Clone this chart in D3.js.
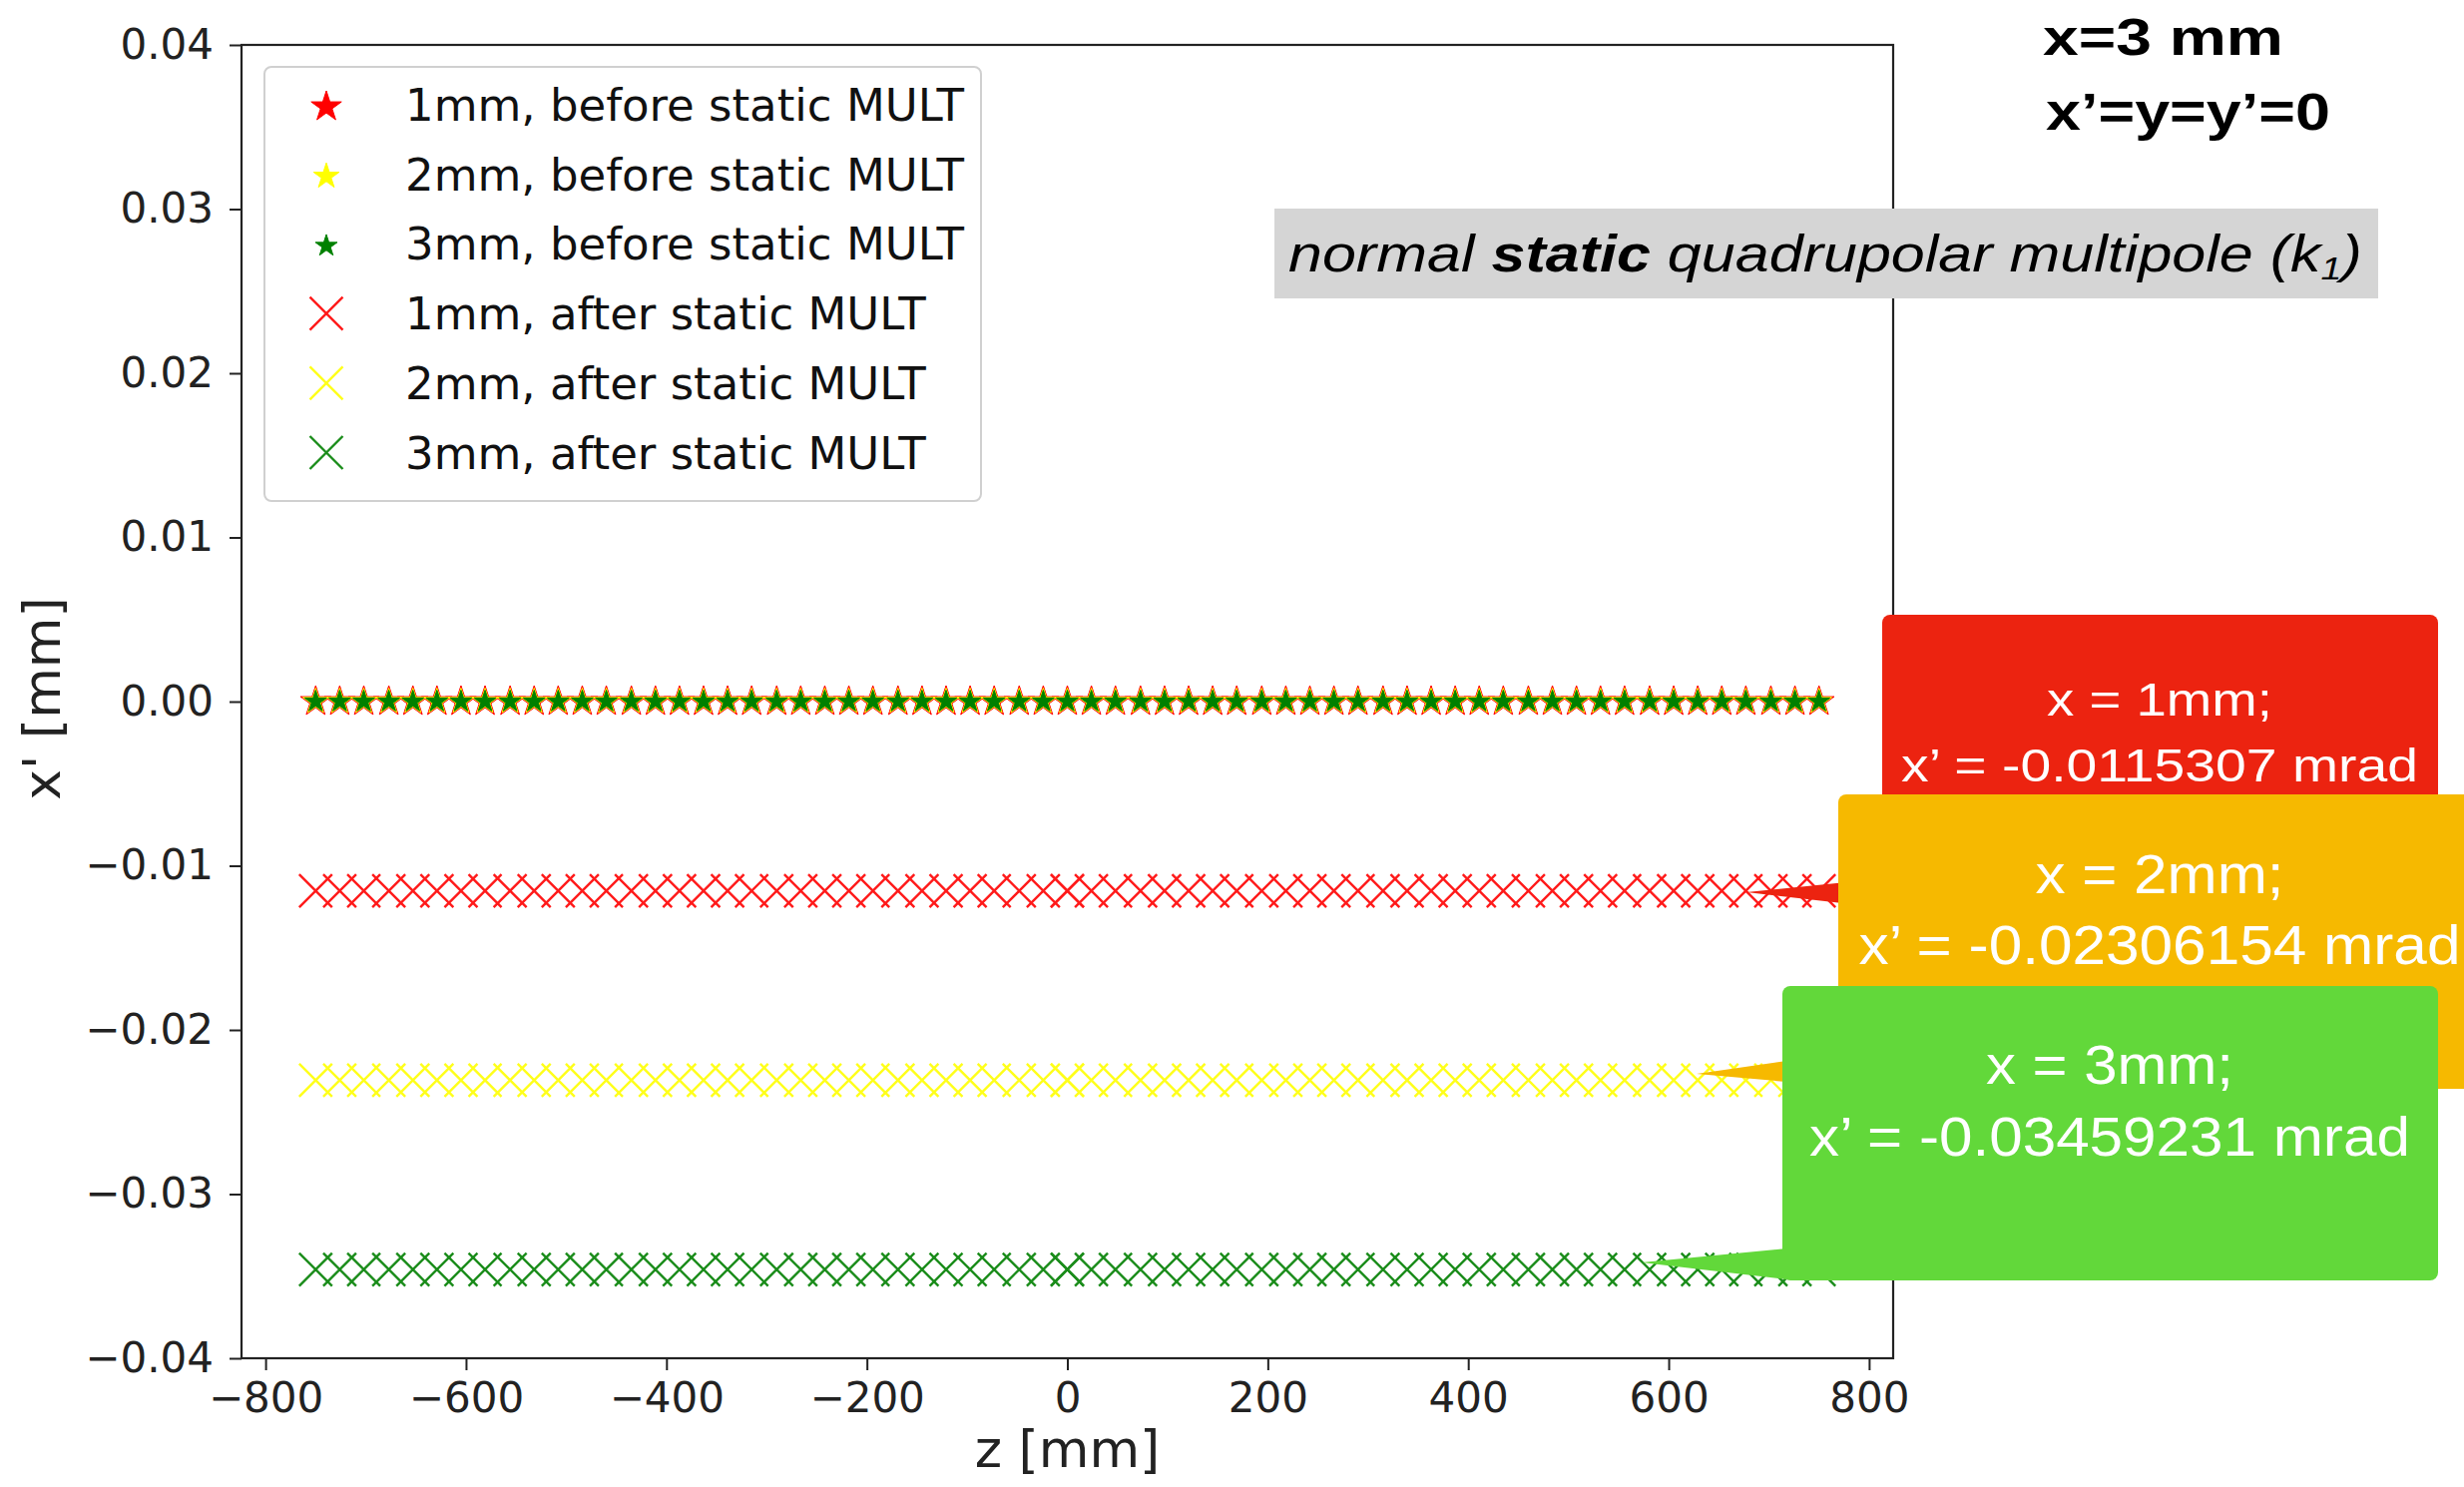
<!DOCTYPE html>
<html lang="en">
<head>
  <meta charset="utf-8">
  <title>static MULT kick</title>
  <script src="https://cdn.jsdelivr.net/npm/d3@7"></script>
  <style>
    body { margin: 0px; background: white; }
    svg { display: block; }
  </style>
</head>
<body>
  <script type="text/javascript">
    // Data
    var zBefore = [-750, -726, -702, -677, -653, -629, -605, -581, -556, -532, -508, -484, -460, -435, -411, -387,
                   -363, -339, -315, -290, -266, -242, -218, -194, -169, -145, -121, -97, -73, -48, -24, 0,
                   24, 48, 73, 97, 121, 145, 169, 194, 218, 242, 266, 290, 315, 339, 363, 387,
                   411, 435, 460, 484, 508, 532, 556, 581, 605, 629, 653, 677, 702, 726, 750];
    var zAfter = zBefore.concat([0]);   // the point at z = 0 shows up twice after the element
    var offsets = ["1mm", "2mm", "3mm"];
    var xpBefore = [0, 0, 0];
    var xpAfter = [-0.0115307, -0.02306154, -0.03459231];
    var xTicks = [-800, -600, -400, -200, 0, 200, 400, 600, 800];
    var yTicks = [-0.04, -0.03, -0.02, -0.01, 0.00, 0.01, 0.02, 0.03, 0.04];
    var calloutLines = [
      ["x = 1mm;", "x\u2019 = -0.0115307 mrad"],
      ["x = 2mm;", "x\u2019 = -0.02306154 mrad"],
      ["x = 3mm;", "x\u2019 = -0.03459231 mrad"]
    ];

    // Styles
    var colors = ["#ff0000", "#ffff00", "#008000"];
    var crossColors = ["#ff1a1a", "#ffff1a", "#1a8c1a"];
    var starRadius = [16, 13.5, 11.5];
    var crossHalf = 16.5;
    var width = 2469, height = 1490;
    var plotLeft = 242, plotRight = 1897, plotTop = 45, plotBottom = 1361;
    var font = "'DejaVu Sans', sans-serif";
    var slideFont = "'Liberation Sans', Arial, sans-serif";

    var svg = d3.select("body").append("svg")
      .attr("width", width)
      .attr("height", height);

    svg.append("rect")
      .attr("width", width)
      .attr("height", height)
      .attr("fill", "white");

    var x = d3.scaleLinear().domain([-824, 824]).range([plotLeft, plotRight]);
    var y = d3.scaleLinear().domain([-0.04, 0.04]).range([plotBottom, plotTop]);

    // Axes
    var xAxis = svg.append("g")
      .attr("transform", "translate(0," + plotBottom + ")")
      .call(d3.axisBottom(x).tickValues(xTicks).tickSize(12).tickPadding(12).tickFormat(d3.format("d")));
    var yAxis = svg.append("g")
      .attr("transform", "translate(" + plotLeft + ",0)")
      .call(d3.axisLeft(y).tickValues(yTicks).tickSize(12).tickPadding(16).tickFormat(d3.format(".2f")));
    [xAxis, yAxis].forEach(function(g) {
      g.select(".domain").remove();
      g.selectAll(".tick line").attr("stroke", "#222").attr("stroke-width", 2);
      g.selectAll(".tick text").attr("fill", "#222").style("font-family", font).style("font-size", "42px");
    });

    // Spines
    svg.append("rect")
      .attr("x", plotLeft).attr("y", plotTop)
      .attr("width", plotRight - plotLeft).attr("height", plotBottom - plotTop)
      .attr("fill", "none").attr("stroke", "#222").attr("stroke-width", 2.2);

    svg.append("text")
      .attr("x", (plotLeft + plotRight) / 2).attr("y", 1470)
      .attr("text-anchor", "middle")
      .style("font-family", font).style("font-size", "52px").attr("fill", "#222")
      .text("z [mm]");
    svg.append("text")
      .attr("transform", "translate(60,700) rotate(-90)")
      .attr("text-anchor", "middle")
      .style("font-family", font).style("font-size", "52px").attr("fill", "#222")
      .text("x' [mm]");

    function starPath(R) {
      var pts = [];
      for (var i = 0; i < 10; i++) {
        var r = i % 2 ? R * 0.382 : R;
        var a = -Math.PI / 2 + i * Math.PI / 5;
        pts.push([r * Math.cos(a), r * Math.sin(a)]);
      }
      return "M" + pts.join("L") + "Z";
    }
    function crossPath(s) {
      return "M" + (-s) + "," + (-s) + "L" + s + "," + s + "M" + (-s) + "," + s + "L" + s + "," + (-s);
    }

    // Markers before the element (stars)
    offsets.forEach(function(o, k) {
      svg.append("g").selectAll("path")
        .data(zBefore.map(function(z) { return {z: z, v: xpBefore[k]}; }))
        .enter().append("path")
        .attr("d", starPath(starRadius[k]))
        .attr("transform", function(d) { return "translate(" + x(d.z) + "," + y(d.v) + ")"; })
        .attr("fill", colors[k])
        .attr("stroke", colors[k]).attr("stroke-width", 1);
    });

    // Markers after the element (crosses)
    offsets.forEach(function(o, k) {
      svg.append("g").selectAll("path")
        .data(zAfter.map(function(z) { return {z: z, v: xpAfter[k]}; }))
        .enter().append("path")
        .attr("d", crossPath(crossHalf))
        .attr("transform", function(d) { return "translate(" + x(d.z) + "," + y(d.v) + ")"; })
        .attr("fill", "none")
        .attr("stroke", crossColors[k]).attr("stroke-width", 2.4);
    });

    // Legend
    var legend = svg.append("g");
    legend.append("rect")
      .attr("x", 265).attr("y", 67).attr("width", 718).attr("height", 435)
      .attr("rx", 7)
      .attr("fill", "white").attr("fill-opacity", 0.8)
      .attr("stroke", "#d0d0d0").attr("stroke-width", 2);
    var legendRows = [];
    offsets.forEach(function(o, k) { legendRows.push({label: o + ", before static MULT", type: "star", k: k}); });
    offsets.forEach(function(o, k) { legendRows.push({label: o + ", after static MULT", type: "cross", k: k}); });
    legendRows.forEach(function(row, i) {
      var cy = 105 + i * 69.7;
      if (row.type === "star") {
        legend.append("path")
          .attr("d", starPath(starRadius[row.k]))
          .attr("transform", "translate(327," + (cy + 2) + ")")
          .attr("fill", colors[row.k]).attr("stroke", colors[row.k]).attr("stroke-width", 1);
      } else {
        legend.append("path")
          .attr("d", crossPath(crossHalf))
          .attr("transform", "translate(327," + cy + ")")
          .attr("fill", "none").attr("stroke", crossColors[row.k]).attr("stroke-width", 2.4);
      }
      legend.append("text")
        .attr("x", 406).attr("y", cy + 16)
        .style("font-family", font).style("font-size", "45px").attr("fill", "#111")
        .text(row.label);
    });

    // Slide overlays
    function fitText(sel, anchorX, targetWidth) {
      var w = sel.node().getComputedTextLength();
      var s = targetWidth / w;
      sel.attr("transform", "translate(" + anchorX + ",0) scale(" + s + ",1) translate(" + (-anchorX) + ",0)");
    }

    var t1 = svg.append("text").attr("x", 2047).attr("y", 55)
      .style("font-family", slideFont).style("font-size", "52px").style("font-weight", "bold")
      .text("x=3 mm");
    fitText(t1, 2047, 241);
    var t2 = svg.append("text").attr("x", 2050).attr("y", 130)
      .style("font-family", slideFont).style("font-size", "52px").style("font-weight", "bold")
      .text("x\u2019=y=y\u2019=0");
    fitText(t2, 2050, 285);

    svg.append("rect")
      .attr("x", 1277).attr("y", 209).attr("width", 1106).attr("height", 90)
      .attr("fill", "#d5d5d5");
    var gt = svg.append("text").attr("x", 1291).attr("y", 272)
      .style("font-family", slideFont).style("font-size", "52px").style("font-style", "italic");
    gt.append("tspan").text("normal ");
    gt.append("tspan").style("font-weight", "bold").text("static");
    gt.append("tspan").text(" quadrupolar multipole (k");
    gt.append("tspan").style("font-size", "32px").attr("dy", 8).text("1");
    gt.append("tspan").attr("dy", -8).text(")");
    fitText(gt, 1291, 1076);

    var boxes = [
      {x: 1886, y: 616, w: 557, h: 300, fill: "#ec2310",
       tail: [[1750, 894], [1890, 880], [1890, 910]],
       cx: 2164, base: [717, 783], size: 47, widths: [226, 518]},
      {x: 1842, y: 796, w: 650, h: 295, fill: "#f6b900",
       tail: [[1700, 1076], [1846, 1055], [1846, 1089]],
       cx: 2164, base: [895, 966], size: 56, widths: [249, 603]},
      {x: 1786, y: 988, w: 657, h: 295, fill: "#62d83a",
       tail: [[1645, 1265], [1790, 1251], [1790, 1282]],
       cx: 2114, base: [1086, 1158], size: 56, widths: [248, 602]}
    ];
    boxes.forEach(function(b, k) {
      svg.append("path")
        .attr("d", "M" + b.tail.join("L") + "Z")
        .attr("fill", b.fill);
      svg.append("rect")
        .attr("x", b.x).attr("y", b.y).attr("width", b.w).attr("height", b.h)
        .attr("rx", 8)
        .attr("fill", b.fill);
      calloutLines[k].forEach(function(line, j) {
        var t = svg.append("text")
          .attr("x", b.cx).attr("y", b.base[j])
          .attr("text-anchor", "middle")
          .style("font-family", slideFont).style("font-size", b.size + "px")
          .attr("fill", "white")
          .text(line);
        fitText(t, b.cx, b.widths[j]);
      });
    });
  </script>
</body>
</html>
